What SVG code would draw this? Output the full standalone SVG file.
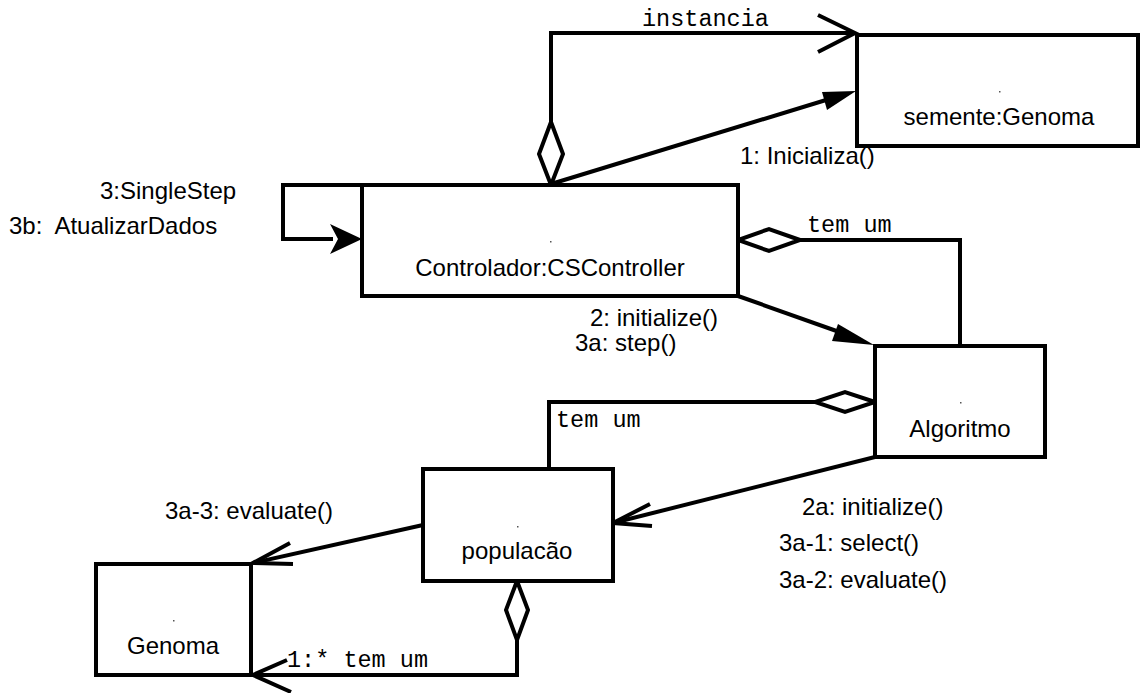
<svg xmlns="http://www.w3.org/2000/svg" width="1141" height="693" viewBox="0 0 1141 693">
  <style>
    .box { fill: #fff; stroke: #000; stroke-width: 4; }
    .line { fill: none; stroke: #000; stroke-width: 4; stroke-linejoin: miter; }
    .open { fill: none; stroke: #000; stroke-width: 4; stroke-linecap: butt; }
    .solid { fill: #000; stroke: none; }
    .dia { fill: #fff; stroke: #000; stroke-width: 4; stroke-linejoin: miter; }
    .lbl { font-family: "Liberation Sans", Arial, sans-serif; font-size: 24px; fill: #000; }
    .mono { font-family: "Liberation Mono", "Courier New", monospace; font-size: 23.5px; fill: #000; }
    .mid { text-anchor: middle; }
    .dot { fill: #555; }
  </style>

  <rect width="1141" height="693" fill="#fff"/>

  <!-- connectors -->
  <g id="connectors">
    <!-- instancia: controller top to semente -->
    <polyline class="line" points="551,123 551,33 855,33"/>
    <polyline class="open" points="818,15 855,33 818,52"/>
    <polygon class="dia" points="551,122 563,154 551,185 539,154"/>
    <text class="mono" x="642" y="26">instancia</text>

    <!-- 1: Inicializa() -->
    <line class="line" x1="551" y1="184" x2="826" y2="100"/>
    <polygon class="solid" points="856,91 822,92 827,110"/>
    <text class="lbl" x="740" y="164">1: Inicializa()</text>

    <!-- self message on controller -->
    <polyline class="line" points="362,185 283,185 283,239 333,239"/>
    <polygon class="solid" points="362,239 330,224 338,239 330,254"/>
    <text class="lbl" x="100" y="199">3:SingleStep</text>
    <text class="lbl" x="9" y="234" xml:space="preserve">3b:  AtualizarDados</text>

    <!-- controller to algoritmo -->
    <line class="line" x1="738" y1="296" x2="845" y2="334"/>
    <polygon class="solid" points="874,345 838,324 832,341"/>
    <text class="lbl" x="590" y="326">2: initialize()</text>
    <text class="lbl" x="575" y="351">3a: step()</text>

    <!-- algoritmo aggregated by controller -->
    <polyline class="line" points="960,346 960,240 800,240"/>
    <polygon class="dia" points="800,240 769,229 738,240 769,251"/>
    <text class="mono" x="807" y="232">tem um</text>

    <!-- populacao aggregated by algoritmo -->
    <polyline class="line" points="815,402 549,402 549,469"/>
    <polygon class="dia" points="875,402 845,392 815,402 845,412"/>
    <text class="mono" x="556" y="427">tem um</text>

    <!-- algoritmo to populacao -->
    <line class="line" x1="875" y1="457" x2="613" y2="523"/>
    <polyline class="open" points="650,504 613,523 652,526"/>
    <text class="lbl" x="802" y="515">2a: initialize()</text>
    <text class="lbl" x="779" y="551">3a-1: select()</text>
    <text class="lbl" x="779" y="588">3a-2: evaluate()</text>

    <!-- populacao to genoma -->
    <line class="line" x1="423" y1="525" x2="253" y2="563"/>
    <polyline class="open" points="290,543 253,563 293,564"/>
    <text class="lbl" x="165" y="519">3a-3: evaluate()</text>

    <!-- genoma aggregated by populacao -->
    <polyline class="line" points="517,640 517,675 253,675"/>
    <polygon class="dia" points="517,581 528,610 517,640 506,610"/>
    <polyline class="open" points="287,660 253,675 291,692"/>
    <text class="mono" x="287" y="667">1:* tem um</text>
  </g>

  <!-- nodes -->
  <g id="semente">
    <rect class="box" x="857" y="35" width="281" height="111"/>
    <rect class="dot" x="999" y="91" width="1.5" height="1.5"/>
    <text class="lbl mid" x="999" y="125">semente:Genoma</text>
  </g>

  <g id="controlador">
    <rect class="box" x="362" y="185" width="376" height="111"/>
    <rect class="dot" x="550" y="241" width="1.5" height="1.5"/>
    <text class="lbl mid" x="550" y="276">Controlador:CSController</text>
  </g>

  <g id="algoritmo">
    <rect class="box" x="875" y="346" width="170" height="111"/>
    <rect class="dot" x="960" y="402" width="1.5" height="1.5"/>
    <text class="lbl mid" x="960" y="437">Algoritmo</text>
  </g>

  <g id="populacao">
    <rect class="box" x="423" y="469" width="190" height="112"/>
    <rect class="dot" x="517" y="526" width="1.5" height="1.5"/>
    <text class="lbl mid" x="517" y="559">populacão</text>
  </g>

  <g id="genoma">
    <rect class="box" x="96" y="564" width="155" height="111"/>
    <rect class="dot" x="173" y="620" width="1.5" height="1.5"/>
    <text class="lbl mid" x="173" y="654">Genoma</text>
  </g>
</svg>
